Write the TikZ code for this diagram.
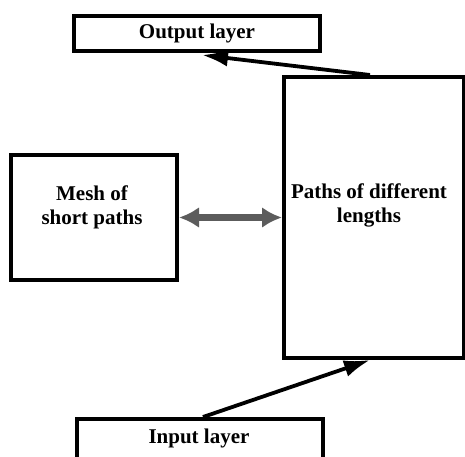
\documentclass[tikz,border=0pt]{standalone}
\usepackage{fontspec}
\setmainfont{Liberation Serif}
\usepackage{tikz}
\usetikzlibrary{arrows.meta,calc}

\definecolor{linkgray}{RGB}{92,92,92}

\begin{document}
\begin{tikzpicture}[x=1pt,y=1pt,box/.style={draw,line width=4pt,inner sep=0pt},boxtext/.style={font=\fontsize{21}{24}\selectfont\bfseries,align=center},link/.style={line width=3.8pt,-{Latex[length=26pt,width=17pt]}}]
	\useasboundingbox (0,0) rectangle (465,456);
	\node[box,minimum width=246pt,minimum height=35pt,boxtext] (output) at (197,422.5) {Output layer};
	\node[box,minimum width=180pt,minimum height=281pt] (paths) at (374,238.5) {};
	\node[boxtext] (pathstext) at ($(paths.center)+(-5,12.5)$) {Paths of different\\lengths};
	\node[box,minimum width=166pt,minimum height=125pt] (mesh) at (94,238.5) {};
	\node[boxtext] (meshtext) at ($(mesh.center)+(-2,10.5)$) {Mesh of\\short paths};
	\node[box,minimum width=246pt,minimum height=45pt] (input) at (200,14.5) {};
	\node[boxtext] (inputtext) at (199,18) {Input layer};
	% connectors
	\draw[link] ($(paths.north)+(-4,0)$) -- ($(output.south)+(5,-2)$);
	\draw[link] ($(input.north)+(3,0)$) -- ($(paths.south)+(-4,0)$);
	\draw[line width=7pt,linkgray,{Latex[length=20pt,width=21pt]}-{Latex[length=20pt,width=21pt]}] (mesh.east) -- (paths.west);
\end{tikzpicture}
\end{document}
